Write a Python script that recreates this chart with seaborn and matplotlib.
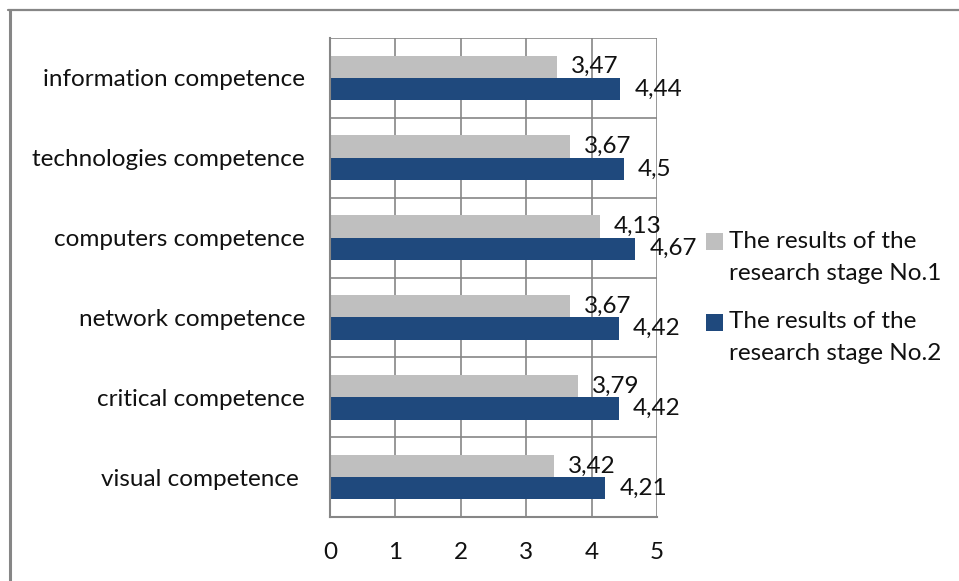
import numpy as np
import pandas as pd
import matplotlib
matplotlib.use("Agg")
import matplotlib.pyplot as plt
import seaborn as sns
from matplotlib.lines import Line2D
from matplotlib.patches import Rectangle

categories = ["information competence", "technologies competence", "computers competence",
              "network competence", "critical competence", "visual competence "]
stage1 = [3.47, 3.67, 4.13, 3.67, 3.79, 3.42]
stage2 = [4.44, 4.5, 4.67, 4.42, 4.42, 4.21]
series = ["The results of the\nresearch stage No.1", "The results of the\nresearch stage No.2"]
colors = ["#BFBFBF", "#1F497D"]
x_ticks = [0, 1, 2, 3, 4, 5]

df = pd.DataFrame({
    "category": categories * 2,
    "value": stage1 + stage2,
    "series": [series[0]] * len(categories) + [series[1]] * len(categories),
})

sns.set_theme(style="white")
plt.rcParams["font.family"] = ["Lato", "DejaVu Sans"]
FS = 17.5
W, H = 959, 581

fig = plt.figure(figsize=(9.59, 5.81), dpi=100)
ax = fig.add_axes([330 / W, 1 - 517 / H, (657 - 330) / W, (517 - 38) / H])

sns.barplot(data=df, y="category", x="value", hue="series", palette=colors,
            order=categories, hue_order=series, width=0.56, ax=ax, legend=False,
            saturation=1, linewidth=0)

gc = "#868686"
ax.set_xlim(0, 5)
ax.set_ylim(len(categories) - 0.5, -0.5)
ax.set_xticks(x_ticks)
ax.set_xticklabels([str(t) for t in x_ticks], fontsize=FS, color="#111111")
ax.set_yticks(range(len(categories)))
ax.set_yticklabels(categories, fontsize=FS, color="#111111")
ax.set_yticks(np.arange(-0.5, len(categories), 1.0), minor=True)
ax.tick_params(axis="y", which="major", length=0, pad=18)
ax.tick_params(axis="y", which="minor", length=8, width=1.5, color=gc, direction="out")
ax.tick_params(axis="x", which="major", length=8, width=1.5, color=gc, direction="out", pad=10)
ax.set_xlabel("")
ax.set_ylabel("")
ax.grid(axis="x", which="major", color=gc, linewidth=1.2)
ax.grid(axis="y", which="minor", color=gc, linewidth=1.2)
ax.grid(axis="y", which="major", visible=False)
ax.set_axisbelow(True)
for s in ["top", "right"]:
    ax.spines[s].set_visible(False)
for s in ["left", "bottom"]:
    ax.spines[s].set_color(gc)
    ax.spines[s].set_linewidth(1.5)

for cont in ax.containers:
    ax.bar_label(cont, labels=[f"{v:g}".replace(".", ",") for v in cont.datavalues],
                 padding=10, fontsize=FS, color="#111111")

# legend (square aligned with first text line, as in the original)
entry_top = [242, 322]
for i, (lab, col) in enumerate(zip(series, colors)):
    yc = entry_top[i]
    fig.add_artist(Rectangle((706 / W, 1 - (yc + 8.5) / H), 17 / W, 17 / H,
                             transform=fig.transFigure, facecolor=col, edgecolor="none"))
    for j, line in enumerate(lab.split("\n")):
        fig.text(729 / W, 1 - (yc + j * 31) / H, line, fontsize=FS, va="center",
                 ha="left", color="#111111")

# outer chart frame
fig.add_artist(Line2D([9.5 / W, 9.5 / W], [0, 1 - 10 / H], transform=fig.transFigure,
                      color=gc, linewidth=2.2))
fig.add_artist(Line2D([8 / W, 1], [1 - 10 / H, 1 - 10 / H], transform=fig.transFigure,
                      color=gc, linewidth=1.6))

fig.savefig("out.png", dpi=100)
